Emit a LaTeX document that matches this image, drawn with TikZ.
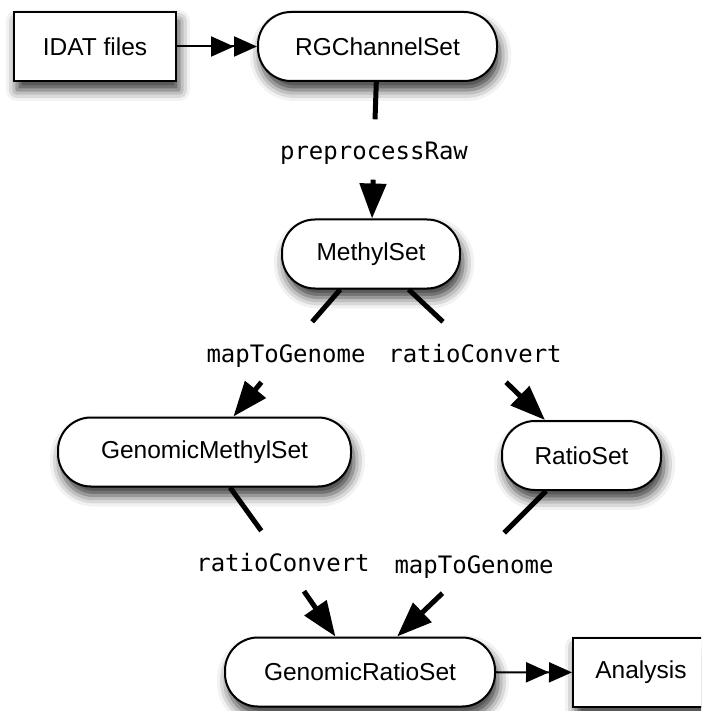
\documentclass[tikz,border=0pt]{standalone}
\usepackage{fontspec}
\setmainfont{Liberation Sans}
\newfontfamily\codefont{DejaVu Sans Mono}
\usepackage{tikz}
\usetikzlibrary{arrows.meta,shadows.blur}

\begin{document}
\begin{tikzpicture}[x=1pt,y=-1pt,
  box/.style={draw=black,line width=2pt,fill=white,minimum height=69pt,inner sep=0pt,
    font=\fontsize{24.5}{29}\selectfont,
    blur shadow={shadow xshift=3pt,shadow yshift=-9pt,shadow blur radius=11pt,shadow opacity=80}},
  pill/.style={box,rounded corners=33pt},
  fn/.style={font=\codefont\fontsize{24}{28}\selectfont,inner sep=0pt,text height=40pt,text depth=20pt,anchor=base},
  link/.style={line width=5pt},
  flow/.style={line width=5pt,-{Triangle[length=35pt,width=26pt]}},
  feed/.style={line width=2pt,-{Triangle[length=23pt,width=20pt,sep=0pt]Triangle[length=23pt,width=20pt]}}]
\useasboundingbox (0,0) rectangle (701,711);
\clip (0,0) rectangle (701,711);
\node [box,minimum width=162pt] (idat) at (95,46.5) {IDAT files};
\node [pill,minimum width=239pt] (rgc) at (377.5,46.5) {RGChannelSet};
\node [pill,minimum width=178pt] (mset) at (371,254) {MethylSet};
\node [pill,minimum width=293pt] (gmset) at (204.5,452) {GenomicMethylSet};
\node [pill,minimum width=159pt] (rset) at (581.5,455.5) {RatioSet};
\node [pill,minimum width=270pt] (grset) at (360,672) {GenomicRatioSet};
\node [box,minimum width=136pt] (ana) at (641,672.5) {Analysis};
\node [fn] (pre) at (374,159.5) {preprocessRaw};
\node [fn] (m2g) at (286,362) {mapToGenome};
\node [fn] (rc) at (475,362) {ratioConvert};
\node [fn] (rc2) at (283,571) {ratioConvert};
\node [fn] (m2g2) at (474,573) {mapToGenome};
\draw [feed] (idat) -- (rgc);
\draw [link] (rgc) -- (pre);
\draw [flow] (pre) -- (mset);
\draw [link] (mset) -- (m2g);
\draw [flow] (m2g) -- (gmset);
\draw [link] (mset) -- (rc);
\draw [flow] (rc) -- (rset);
\draw [link] (gmset) -- (rc2);
\draw [flow] (rc2) -- (grset);
\draw [link] (rset) -- (m2g2);
\draw [flow] (m2g2) -- (grset);
\draw [feed] (grset) -- (ana);
\end{tikzpicture}
\end{document}
